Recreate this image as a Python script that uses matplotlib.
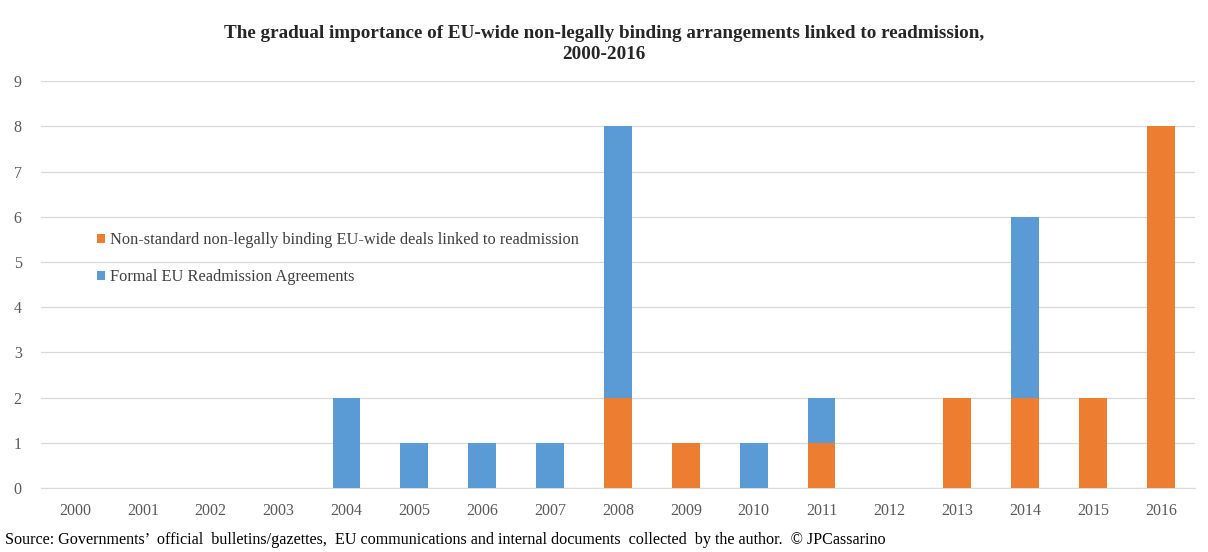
import matplotlib
matplotlib.use("Agg")
import matplotlib.pyplot as plt
import numpy as np

years = ["2000", "2001", "2002", "2003", "2004", "2005", "2006", "2007", "2008",
         "2009", "2010", "2011", "2012", "2013", "2014", "2015", "2016"]
non_standard = [0, 0, 0, 0, 0, 0, 0, 0, 2, 1, 0, 1, 0, 2, 2, 2, 8]
formal_era = [0, 0, 0, 0, 2, 1, 1, 1, 6, 0, 1, 1, 0, 0, 4, 0, 0]

ORANGE = "#ED7D31"
BLUE = "#5B9BD5"
GREY = "#595959"

plt.rcParams['font.family'] = ['Liberation Serif', 'DejaVu Serif']

fig = plt.figure(figsize=(12.08, 5.52), dpi=100)
ax = fig.add_axes([0.034, 0.116, 0.955, 0.737])

x = np.arange(len(years))
w = 0.41
ax.bar(x, non_standard, width=w, color=ORANGE, zorder=3,
       label="Non-standard non-legally binding EU-wide deals linked to readmission")
ax.bar(x, formal_era, width=w, bottom=non_standard, color=BLUE, zorder=3,
       label="Formal EU Readmission Agreements")

ax.set_xlim(-0.5, len(years) - 0.5)
ax.set_ylim(0, 9)
ax.set_yticks(range(0, 10))
ax.set_xticks(x)
ax.set_xticklabels(years)
ax.yaxis.grid(True, color="#D9D9D9", linewidth=0.9, zorder=0)
ax.set_axisbelow(True)
for s in ["top", "right", "left"]:
    ax.spines[s].set_visible(False)
ax.spines["bottom"].set_color("#D9D9D9")
ax.tick_params(axis="both", length=0, labelsize=11.5, colors=GREY, pad=11)
ax.tick_params(axis="y", pad=14)

leg = ax.legend(loc="upper left", bbox_to_anchor=(0.036, 0.665), frameon=False,
                fontsize=11.8, handlelength=0.45, handleheight=0.45,
                handletextpad=0.3, labelspacing=1.3, labelcolor="#404040")

fig.text(0.5, 0.92, "The gradual importance of EU-wide non-legally binding arrangements linked to readmission,\n2000-2016",
         ha="center", va="center", fontsize=13.8, fontweight="bold", color="#262626",
         linespacing=1.3)

fig.text(0.004, 0.022, "Source: Governments\u2019  official  bulletins/gazettes,  EU communications and internal documents  collected  by the author.  \u00a9 JPCassarino",
         ha="left", va="center", fontsize=11.6, color="#000000")

fig.savefig("out.png", dpi=100)
